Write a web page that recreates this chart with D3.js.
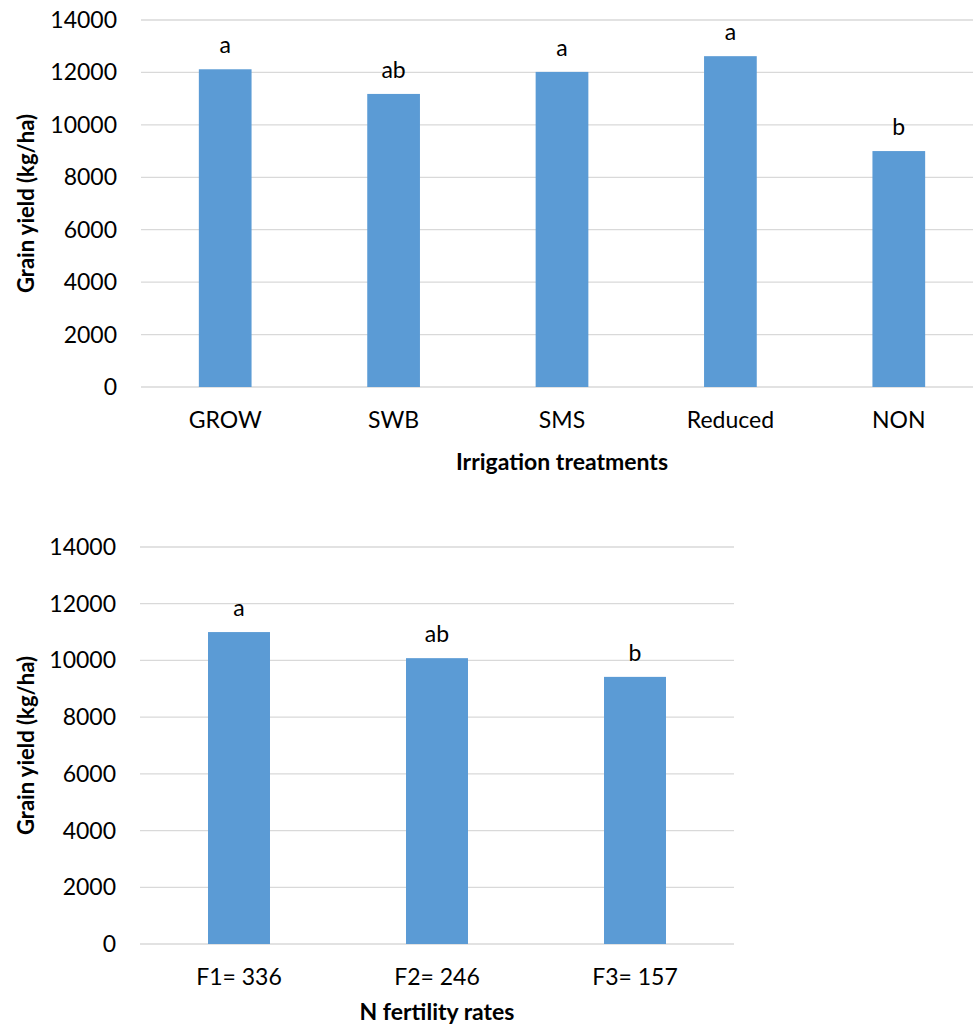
<!DOCTYPE html>
<html>
<head>
<meta charset="utf-8">
<script src="https://cdn.jsdelivr.net/npm/d3@7"></script>
<style>
  body { margin: 0; background: #fff; }
  text { font-family: Lato, "Open Sans", sans-serif; fill: #000; }
</style>
</head>
<body>
<svg id="chart" width="973" height="1029"></svg>
<script>
// irrigation panel
const irrigCats = ["GROW", "SWB", "SMS", "Reduced", "NON"];
const irrigYield = [12120, 11180, 12020, 12620, 9000];
const irrigLetters = ["a", "ab", "a", "a", "b"];

// fertility panel
const fertCats = ["F1= 336", "F2= 246", "F3= 157"];
const fertYield = [11000, 10080, 9420];
const fertLetters = ["a", "ab", "b"];

const yTicks = [0, 2000, 4000, 6000, 8000, 10000, 12000, 14000];

const svg = d3.select("#chart");

function drawPanel(cats, vals, letters, xTitle, box) {
    const g = svg.append("g");

    const x = d3.scaleBand().domain(cats).range([box.left, box.right])
        .paddingInner(0.687).paddingOuter(0.3435);
    const y = d3.scaleLinear().domain([0, 14000]).range([box.bottom, box.top]);

    // gridlines
    g.selectAll(".grid")
        .data(yTicks)
        .enter().append("line")
        .attr("x1", box.left)
        .attr("x2", box.right)
        .attr("y1", d => y(d))
        .attr("y2", d => y(d))
        .attr("stroke", "#d9d9d9")
        .attr("stroke-width", 1.3);

    // y tick labels
    g.selectAll(".ylab")
        .data(yTicks)
        .enter().append("text")
        .attr("x", box.left - 24)
        .attr("y", d => y(d))
        .attr("dy", "0.35em")
        .attr("text-anchor", "end")
        .style("font-size", "23px")
        .text(d => d);

    g.selectAll("rect")
        .data(vals)
        .enter().append("rect")
        .attr("x", (d, i) => x(cats[i]))
        .attr("width", x.bandwidth())
        .attr("y", d => y(d))
        .attr("height", d => y(0) - y(d))
        .attr("fill", "#5b9bd5");

    // significance letters
    g.selectAll(".letter")
        .data(vals)
        .enter().append("text")
        .attr("x", (d, i) => x(cats[i]) + x.bandwidth() / 2)
        .attr("y", d => y(d) - 16)
        .attr("text-anchor", "middle")
        .style("font-size", "23px")
        .text((d, i) => letters[i]);

    // category labels
    g.selectAll(".xlab")
        .data(cats)
        .enter().append("text")
        .attr("x", d => x(d) + x.bandwidth() / 2)
        .attr("y", box.bottom + 33)
        .attr("dy", "0.35em")
        .attr("text-anchor", "middle")
        .style("font-size", "23px")
        .text(d => d);

    g.append("text")
        .attr("x", (box.left + box.right) / 2)
        .attr("y", box.bottom + box.titleGap)
        .attr("dy", "0.35em")
        .attr("text-anchor", "middle")
        .style("font-size", "23px")
        .style("font-weight", "bold")
        .text(xTitle);

    g.append("text")
        .attr("transform", `translate(26,${(box.top + box.bottom) / 2}) rotate(-90)`)
        .attr("dy", "0.35em")
        .attr("text-anchor", "middle")
        .style("font-size", "22px")
        .style("font-weight", "bold")
        .text("Grain yield (kg/ha)");
}

drawPanel(irrigCats, irrigYield, irrigLetters, "Irrigation treatments",
    { left: 141, right: 983, top: 20, bottom: 387, titleGap: 75 });
drawPanel(fertCats, fertYield, fertLetters, "N fertility rates",
    { left: 140, right: 734, top: 547, bottom: 944, titleGap: 68 });
</script>
</body>
</html>
